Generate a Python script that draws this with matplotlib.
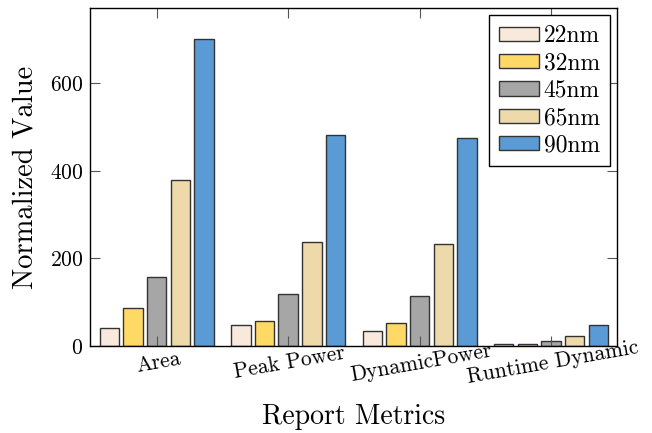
import numpy as np
import matplotlib
matplotlib.use("Agg")
import matplotlib.pyplot as plt

plt.rcParams['font.family'] = ['cmr10', 'DejaVu Serif']
plt.rcParams['axes.formatter.use_mathtext'] = True
plt.rcParams['mathtext.fontset'] = 'cm'

# report metrics per technology node
metrics = ["Area", "Peak Power", "DynamicPower", "Runtime Dynamic"]
nodes = ["22nm", "32nm", "45nm", "65nm", "90nm"]
values_22 = [40, 49, 35, 5]
values_32 = [87, 57, 53, 5]
values_45 = [157, 119, 115, 11]
values_65 = [379, 237, 234, 23]
values_90 = [702, 482, 476, 48]
series = [values_22, values_32, values_45, values_65, values_90]
colors = ["#F8E9DC", "#FFD966", "#A6A6A6", "#EDD9A9", "#5B9BD5"]

fig = plt.figure(figsize=(6.52, 4.33), dpi=100)
ax = fig.add_axes([0.138, 0.201, 0.808, 0.7805])

x = np.arange(len(metrics))
step = 0.18
width = 0.148
for i, (name, vals, col) in enumerate(zip(nodes, series, colors)):
    ax.bar(x + (i - 2) * step, vals, width, color=col, edgecolor="#333333",
           linewidth=1.0, label=name, zorder=1)

ax.set_xlim(-0.507, 3.5)
ax.set_ylim(0, 772)
ax.set_xticks(x)
ax.set_xticklabels(metrics, rotation=10, ha="center", rotation_mode="anchor",
                   va="top")
ax.set_yticks([0, 200, 400, 600])
ax.tick_params(direction="in", length=7, width=0.8, color="#555555",
               top=True, right=True, labelsize=15.5, pad=5)
for s in ax.spines.values():
    s.set_linewidth(1.0)

ax.set_ylabel("Normalized Value", fontsize=20.5, labelpad=8)
ax.set_xlabel("Report Metrics", fontsize=20, labelpad=12)

leg = ax.legend(loc="upper right", fontsize=17, frameon=True, fancybox=False,
                edgecolor="black", framealpha=1, handlelength=1.7,
                handleheight=0.55, handletextpad=0.2, labelspacing=0.22,
                borderaxespad=0.3, borderpad=0.42)
leg.get_frame().set_linewidth(1.0)

fig.savefig("out.png", dpi=100)
